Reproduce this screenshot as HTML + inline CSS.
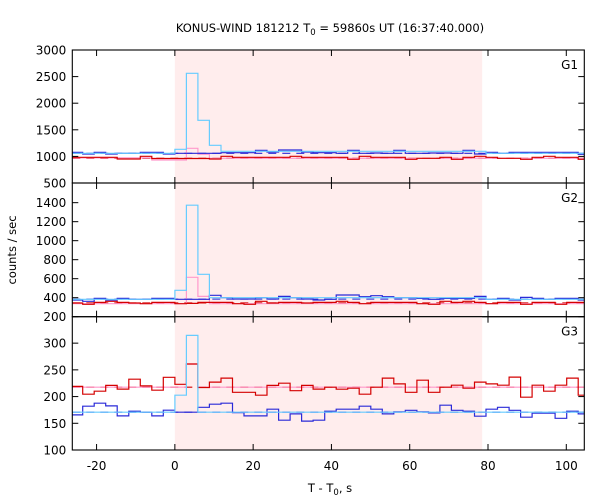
<!DOCTYPE html>
<html><head><meta charset="utf-8"><style>
body{margin:0;background:#fff}
svg{display:block;font-family:"DejaVu Sans","Liberation Sans",sans-serif}
</style></head><body>
<svg id="c" width="600" height="500" viewBox="0 0 600 500">
<text x="330" y="32" text-anchor="middle" font-size="11.5">KONUS-WIND 181212 T<tspan font-size="8.5" dy="3">0</tspan><tspan dy="-3"> = 59860s UT (16:37:40.000)</tspan></text>
<text transform="translate(16,250) rotate(-90)" text-anchor="middle" font-size="11.5">counts / sec</text>
<text x="330" y="492" text-anchor="middle" font-size="11.5">T - T<tspan font-size="8.5" dy="3">0</tspan><tspan dy="-3">, s</tspan></text>
</svg>
<script>
const binWidth = 2.944;
const firstBin = -9;
const xTicks = [-20,0,20,40,60,80,100];
const g1Blue=[1077,1045,1077,1045,1058,1058,1077,1077,1045,1058,1058,1058,1058,1070,1070,1070,1114,1083,1120,1120,1083,1070,1070,1058,1114,1058,1064,1058,1114,1058,1058,1064,1064,1058,1114,1045,1077,1058,1077,1077,1077,1077,1077,1077,1039];
const g1Red=[983,983,983,983,951,951,1002,960,960,960,960,960,951,1002,983,983,983,983,983,1002,983,983,983,983,945,1002,983,983,983,945,964,964,983,945,983,1002,983,964,964,945,983,1002,983,983,945];
const g1Pink=[972,972,972,972,972,972,972,932,932,932,1152,1039,964,964,964,964,964,964,964,964,964,964,964,964,964,964,964,964,964,964,964,964,964,964,964,964,964,964,964,964,964,964,964,964,964];
const g1Cyan=[1058,1058,1058,1058,1058,1058,1058,1058,1058,1133,2562,1678,1208,1096,1096,1096,1096,1096,1096,1096,1096,1096,1096,1096,1096,1096,1096,1096,1096,1096,1096,1096,1096,1096,1096,1096,1058,1058,1058,1058,1058,1058,1058,1058,1058];
const g1Bg=[1058,964];
const g2Blue=[376,362,393,376,393,383,383,393,393,383,383,383,425,400,386,386,400,386,414,400,386,376,383,428,428,410,421,410,400,400,393,383,393,393,393,414,383,393,376,403,393,383,393,393,376];
const g2Red=[344,330,351,362,351,344,337,351,351,337,340,351,351,351,337,330,362,344,351,351,344,351,351,362,351,337,351,351,351,351,337,330,362,351,362,351,337,351,351,330,351,351,330,351,351];
const g2Pink=[337,337,337,337,337,337,337,337,337,337,615,414,337,337,337,337,337,337,337,337,337,337,337,337,337,337,337,337,337,337,337,337,337,337,337,337,337,337,337,337,337,337,337,337,337];
const g2Cyan=[383,383,383,383,383,383,383,383,383,478,1373,646,400,400,400,400,400,400,400,400,400,400,400,400,400,400,400,400,400,400,400,400,400,400,400,400,383,383,383,383,383,383,383,383,383];
const g2Bg=[385,345];
const g3Blue=[165.7,182,187.6,182.5,163.8,172.6,170.7,163.8,174.5,170.7,170.7,180,185.7,187.6,170,163.8,163.8,176.4,155.7,167.5,154,155.7,172.6,176.3,176.3,181.9,176.3,167.5,171.3,174.4,171.3,169.4,183.8,174.4,172.6,163.2,176.3,180,174.4,161.3,168.8,168.8,159.4,172.6,167.5];
const g3Red=[219,204.5,210,221,214,232.6,220,212,236,223,261,217,227,234.5,208,208,202.6,221,225,211,221,214,217.6,213.8,215.7,204.5,217.6,234.5,223.8,208,230.7,208,217.6,221.3,215.7,227,223.8,221.3,236.4,198.8,221.3,210,221.3,234.5,202.6];
const g3Pink=[217.6,217.6,217.6,217.6,217.6,217.6,217.6,217.6,217.6,217.6,261,217.6,217.6,217.6,217.6,217.6,217.6,217.6,217.6,217.6,217.6,217.6,217.6,217.6,217.6,217.6,217.6,217.6,217.6,217.6,217.6,217.6,217.6,217.6,217.6,217.6,217.6,217.6,217.6,217.6,217.6,217.6,217.6,217.6,217.6];
const g3Cyan=[170.7,170.7,170.7,170.7,170.7,170.7,170.7,170.7,170.7,202.6,314.5,170.7,170.7,170.7,170.7,170.7,170.7,170.7,170.7,170.7,170.7,170.7,170.7,170.7,170.7,170.7,170.7,170.7,170.7,170.7,170.7,170.7,170.7,170.7,170.7,170.7,170.7,170.7,170.7,170.7,170.7,170.7,170.7,170.7,170.7];
const g3Bg=[170.7,217.6];
const shadeRange=[0,78.5];
const g1Ticks=[500,1000,1500,2000,2500,3000];
const g2Ticks=[200,400,600,800,1000,1200,1400];
const g3Ticks=[100,150,200,250,300];

const NS="http://www.w3.org/2000/svg";
const svg=document.getElementById('c');
const L=72.3,R=584.3,X0=-26.2,X1=104.6;
const xs=v=>L+(v-X0)*(R-L)/(X1-X0);
function mk(t,a,p){const e=document.createElementNS(NS,t);for(const k in a)e.setAttribute(k,a[k]);(p||svg).appendChild(e);return e;}
const panels=[
 {name:'g1',label:'G1',top:50,bot:183,min:500,max:3000,ticks:g1Ticks,blue:g1Blue,red:g1Red,pink:g1Pink,cyan:g1Cyan,bg:g1Bg},
 {name:'g2',label:'G2',top:183,bot:316.7,min:200,max:1607,ticks:g2Ticks,blue:g2Blue,red:g2Red,pink:g2Pink,cyan:g2Cyan,bg:g2Bg},
 {name:'g3',label:'G3',top:316.7,bot:450,min:100,max:349.5,ticks:g3Ticks,blue:g3Blue,red:g3Red,pink:g3Pink,cyan:g3Cyan,bg:g3Bg}
];
const defs=mk('defs',{});
panels.forEach(p=>{
 const cp=mk('clipPath',{id:'cp-'+p.name},defs);
 mk('rect',{x:L,y:p.top,width:R-L,height:p.bot-p.top},cp);
});
panels.forEach(p=>{
 const ys=v=>p.bot-(v-p.min)*(p.bot-p.top)/(p.max-p.min);
 const g=mk('g',{'clip-path':'url(#cp-'+p.name+')'});
 
 
 const sh=mk('rect',{x:xs(shadeRange[0]),y:p.top,width:xs(shadeRange[1])-xs(shadeRange[0]),height:p.bot-p.top,fill:'#ffeded'},g);
 
 
 const bgc=['#2a2ad8','#d40000'];
 p.bg.forEach((b,i)=>{
  const ln=mk('line',{x1:L,x2:R,y1:ys(b),y2:ys(b),stroke:bgc[i],'stroke-width':1.1,'stroke-dasharray':'8,6'},g);
  
  
 });
 const series=[['pink','#ff99cc'],['red','#d40000'],['blue','#2a2ad8'],['cyan','#66ccff']];
 series.forEach(([k,col])=>{
  const arr=p[k];let d='';
  arr.forEach((v,i)=>{const a=xs((firstBin+i)*binWidth),b=xs((firstBin+i+1)*binWidth),y=ys(v);d+=(i?'L':'M')+a.toFixed(1)+','+y.toFixed(1)+'L'+b.toFixed(1)+','+y.toFixed(1);});
  const pa=mk('path',{d:d,fill:'none',stroke:col,'stroke-width':1.2},g);
  
  
 });
 const fr=mk('rect',{x:L,y:p.top,width:R-L,height:p.bot-p.top,fill:'none',stroke:'#000','stroke-width':1.1});
 
 
 p.ticks.forEach(t=>{
  const y=ys(t);
  mk('line',{x1:L,x2:L+6,y1:y,y2:y,stroke:'#000'});
  mk('line',{x1:R-6,x2:R,y1:y,y2:y,stroke:'#000'});
  const tx=mk('text',{x:L-6,y:y+4.5,'text-anchor':'end','font-size':'12'});
  tx.textContent=t;
  
  
 });
 xTicks.forEach(t=>{
  const x=xs(t);
  mk('line',{x1:x,x2:x,y1:p.bot,y2:p.bot-6,stroke:'#000'});
  mk('line',{x1:x,x2:x,y1:p.top,y2:p.top+6,stroke:'#000'});
 });
 const lb=mk('text',{x:578,y:p.top+19,'text-anchor':'end','font-size':'12'});
 lb.textContent=p.label;
 
 
});
xTicks.forEach(t=>{
 const tx=mk('text',{x:xs(t),y:470,'text-anchor':'middle','font-size':'12'});
 tx.textContent=t;
 
 
});
</script>
</body></html>
